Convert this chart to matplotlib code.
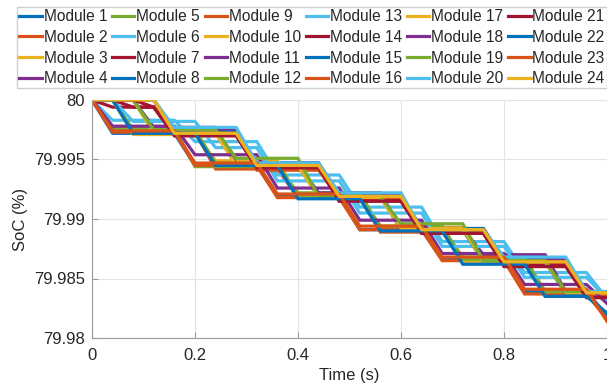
"""SoC of the 24 battery modules over the first second of the balancing run.

Run it directly::

    python plot.py

The figure is written to ``out.png``.
"""

from __future__ import annotations

import matplotlib

matplotlib.use("Agg")
import matplotlib.pyplot as plt
from matplotlib.ticker import FuncFormatter

# Sample times (s) shared by every module.
time_s = [0.00, 0.04, 0.08, 0.12, 0.16, 0.20, 0.24, 0.28, 0.32, 0.36, 0.40, 0.44, 0.48,
          0.52, 0.56, 0.60, 0.64, 0.68, 0.72, 0.76, 0.80, 0.84, 0.88, 0.92, 0.96, 1.00]

# SoC (%) per module, one value per sample time.
soc_01 = [80.0, 79.9972, 79.9972, 79.9972, 79.9972, 79.9945, 79.9945, 79.9945, 79.9945,
          79.9919, 79.9919, 79.9919, 79.9919, 79.9891, 79.9891, 79.9891, 79.9891,
          79.9866, 79.9866, 79.9866, 79.9866, 79.9839, 79.9839, 79.9839, 79.9839, 79.9819]
soc_02 = [80.0, 80.0, 79.9973, 79.9973, 79.9973, 79.9973, 79.9942, 79.9942, 79.9942,
          79.9942, 79.9918, 79.9918, 79.9918, 79.9918, 79.9889, 79.9889, 79.9889,
          79.9889, 79.9866, 79.9866, 79.9866, 79.9866, 79.9835, 79.9835, 79.9835, 79.9835]
soc_03 = [80.0, 80.0, 80.0, 79.9974, 79.9974, 79.9974, 79.9974, 79.9946, 79.9946,
          79.9946, 79.9946, 79.9919, 79.9919, 79.9919, 79.9919, 79.9893, 79.9893,
          79.9893, 79.9893, 79.9865, 79.9865, 79.9865, 79.9865, 79.9838, 79.9838, 79.9838]
soc_04 = [80.0, 80.0, 80.0, 80.0, 79.9975, 79.9975, 79.9975, 79.9975, 79.9947,
          79.9947, 79.9947, 79.9947, 79.9920, 79.9920, 79.9920, 79.9920, 79.9892,
          79.9892, 79.9892, 79.9892, 79.9866, 79.9866, 79.9866, 79.9866, 79.9839, 79.9839]
soc_05 = [80.0, 79.9976, 79.9976, 79.9976, 79.9976, 79.9944, 79.9944, 79.9944, 79.9944,
          79.9944, 79.9922, 79.9922, 79.9922, 79.9922, 79.9892, 79.9892, 79.9892,
          79.9892, 79.9868, 79.9868, 79.9868, 79.9868, 79.9838, 79.9838, 79.9838, 79.9838]
soc_06 = [80.0, 79.9983, 79.9983, 79.9983, 79.9983, 79.9965, 79.9965, 79.9965, 79.9965,
          79.9937, 79.9937, 79.9937, 79.9937, 79.9910, 79.9910, 79.9910, 79.9910,
          79.9881, 79.9881, 79.9881, 79.9881, 79.9855, 79.9855, 79.9855, 79.9855, 79.9833]
soc_07 = [80.0, 79.9994, 79.9994, 79.9994, 79.9970, 79.9970, 79.9970, 79.9970, 79.9943,
          79.9943, 79.9943, 79.9943, 79.9915, 79.9915, 79.9915, 79.9915, 79.9888,
          79.9888, 79.9888, 79.9888, 79.9862, 79.9862, 79.9862, 79.9862, 79.9834, 79.9834]
soc_08 = [80.0, 80.0, 80.0, 80.0, 79.9973, 79.9973, 79.9973, 79.9973, 79.9947,
          79.9947, 79.9947, 79.9947, 79.9919, 79.9919, 79.9919, 79.9919, 79.9892,
          79.9892, 79.9892, 79.9892, 79.9864, 79.9864, 79.9864, 79.9864, 79.9837, 79.9837]
soc_09 = [80.0, 79.9973, 79.9973, 79.9973, 79.9973, 79.9945, 79.9945, 79.9945, 79.9945,
          79.9918, 79.9918, 79.9918, 79.9918, 79.9891, 79.9891, 79.9891, 79.9891,
          79.9865, 79.9865, 79.9865, 79.9865, 79.9837, 79.9837, 79.9837, 79.9837, 79.9816]
soc_10 = [80.0, 80.0, 79.9971, 79.9971, 79.9971, 79.9971, 79.9949, 79.9949, 79.9949,
          79.9949, 79.9918, 79.9918, 79.9918, 79.9918, 79.9894, 79.9894, 79.9894,
          79.9894, 79.9864, 79.9864, 79.9864, 79.9864, 79.9839, 79.9839, 79.9839, 79.9839]
soc_11 = [80.0, 80.0, 80.0, 79.9977, 79.9977, 79.9977, 79.9977, 79.9946, 79.9946,
          79.9946, 79.9946, 79.9922, 79.9922, 79.9922, 79.9922, 79.9892, 79.9892,
          79.9892, 79.9892, 79.9870, 79.9870, 79.9870, 79.9870, 79.9839, 79.9839, 79.9839]
soc_12 = [80.0, 80.0, 79.9975, 79.9975, 79.9975, 79.9975, 79.9947, 79.9947, 79.9947,
          79.9947, 79.9920, 79.9920, 79.9920, 79.9920, 79.9894, 79.9894, 79.9894,
          79.9894, 79.9866, 79.9866, 79.9866, 79.9866, 79.9839, 79.9839, 79.9839, 79.9839]
soc_13 = [80.0, 80.0, 79.9982, 79.9982, 79.9982, 79.9982, 79.9960, 79.9960, 79.9960,
          79.9932, 79.9932, 79.9932, 79.9932, 79.9905, 79.9905, 79.9905, 79.9905,
          79.9877, 79.9877, 79.9877, 79.9877, 79.9851, 79.9851, 79.9851, 79.9851, 79.9833]
soc_14 = [80.0, 80.0, 79.9994, 79.9994, 79.9971, 79.9971, 79.9971, 79.9971, 79.9944,
          79.9944, 79.9944, 79.9944, 79.9916, 79.9916, 79.9916, 79.9916, 79.9889,
          79.9889, 79.9889, 79.9889, 79.9863, 79.9863, 79.9863, 79.9863, 79.9839, 79.9839]
soc_15 = [80.0, 80.0, 80.0, 79.9973, 79.9973, 79.9973, 79.9973, 79.9945, 79.9945,
          79.9945, 79.9945, 79.9919, 79.9919, 79.9919, 79.9919, 79.9891, 79.9891,
          79.9891, 79.9891, 79.9864, 79.9864, 79.9864, 79.9864, 79.9837, 79.9837, 79.9837]
soc_16 = [80.0, 80.0, 80.0, 80.0, 79.9972, 79.9972, 79.9972, 79.9972, 79.9941,
          79.9941, 79.9941, 79.9941, 79.9918, 79.9918, 79.9918, 79.9918, 79.9888,
          79.9888, 79.9888, 79.9888, 79.9864, 79.9864, 79.9864, 79.9864, 79.9836, 79.9836]
soc_17 = [80.0, 80.0, 80.0, 79.9972, 79.9972, 79.9972, 79.9972, 79.9945, 79.9945,
          79.9945, 79.9945, 79.9918, 79.9918, 79.9918, 79.9918, 79.9892, 79.9892,
          79.9892, 79.9892, 79.9864, 79.9864, 79.9864, 79.9864, 79.9838, 79.9838, 79.9838]
soc_18 = [80.0, 79.9978, 79.9978, 79.9978, 79.9978, 79.9954, 79.9954, 79.9954, 79.9954,
          79.9926, 79.9926, 79.9926, 79.9926, 79.9899, 79.9899, 79.9899, 79.9899,
          79.9871, 79.9871, 79.9871, 79.9871, 79.9845, 79.9845, 79.9845, 79.9845, 79.9829]
soc_19 = [80.0, 80.0, 80.0, 79.9975, 79.9975, 79.9975, 79.9975, 79.9951, 79.9951,
          79.9951, 79.9951, 79.9919, 79.9919, 79.9919, 79.9919, 79.9896, 79.9896,
          79.9896, 79.9896, 79.9865, 79.9865, 79.9865, 79.9865, 79.9839, 79.9839, 79.9839]
soc_20 = [80.0, 80.0, 80.0, 80.0, 79.9977, 79.9977, 79.9977, 79.9977, 79.9947,
          79.9947, 79.9947, 79.9947, 79.9922, 79.9922, 79.9922, 79.9922, 79.9891,
          79.9891, 79.9891, 79.9891, 79.9868, 79.9868, 79.9868, 79.9868, 79.9839, 79.9839]
soc_21 = [80.0, 80.0, 80.0, 79.9994, 79.9970, 79.9970, 79.9970, 79.9970, 79.9943,
          79.9943, 79.9943, 79.9943, 79.9915, 79.9915, 79.9915, 79.9915, 79.9888,
          79.9888, 79.9888, 79.9888, 79.9860, 79.9860, 79.9860, 79.9860, 79.9834, 79.9834]
soc_22 = [80.0, 80.0, 79.9972, 79.9972, 79.9972, 79.9972, 79.9945, 79.9945, 79.9945,
          79.9945, 79.9917, 79.9917, 79.9917, 79.9917, 79.9890, 79.9890, 79.9890,
          79.9890, 79.9862, 79.9862, 79.9862, 79.9862, 79.9835, 79.9835, 79.9835, 79.9821]
soc_23 = [80.0, 79.9974, 79.9974, 79.9974, 79.9974, 79.9947, 79.9947, 79.9947, 79.9947,
          79.9921, 79.9921, 79.9921, 79.9921, 79.9894, 79.9894, 79.9894, 79.9894,
          79.9868, 79.9868, 79.9868, 79.9868, 79.9841, 79.9841, 79.9841, 79.9841, 79.9814]
soc_24 = [80.0, 80.0, 80.0, 80.0, 79.9972, 79.9972, 79.9972, 79.9972, 79.9945,
          79.9945, 79.9945, 79.9945, 79.9919, 79.9919, 79.9919, 79.9919, 79.9891,
          79.9891, 79.9891, 79.9891, 79.9864, 79.9864, 79.9864, 79.9864, 79.9838, 79.9838]

module_soc = [soc_01, soc_02, soc_03, soc_04, soc_05, soc_06, soc_07, soc_08,
              soc_09, soc_10, soc_11, soc_12, soc_13, soc_14, soc_15, soc_16,
              soc_17, soc_18, soc_19, soc_20, soc_21, soc_22, soc_23, soc_24]
module_names = [f"Module {i}" for i in range(1, 25)]

x_ticks = [0, 0.2, 0.4, 0.6, 0.8, 1]
y_ticks = [79.98, 79.985, 79.99, 79.995, 80]

# MATLAB's default line colour order.
COLORS = ["#0072BD", "#D95319", "#EDB120", "#7E2F8E", "#77AC30", "#4DBEEE", "#A2142F"]
TEXT_COLOR = "#262626"
AXIS_COLOR = "#9a9a9a"


def build_figure():
    plt.rcParams["font.family"] = ["Liberation Sans", "DejaVu Sans"]
    fig = plt.figure(figsize=(6.07, 3.86), dpi=100)
    ax = fig.add_axes([92 / 607, 48 / 386, 515 / 607, 238 / 386])

    lines = []
    for i, soc in enumerate(module_soc):
        (line,) = ax.plot(time_s, soc, color=COLORS[i % len(COLORS)], lw=2.3,
                          solid_joinstyle="miter")
        lines.append(line)

    ax.set_xlim(0, 1)
    ax.set_ylim(79.98, 80)
    ax.set_xticks(x_ticks)
    ax.set_yticks(y_ticks)
    ax.xaxis.set_major_formatter(FuncFormatter(lambda v, _: f"{v:g}"))
    ax.yaxis.set_major_formatter(FuncFormatter(lambda v, _: f"{v:g}"))
    ax.tick_params(direction="in", length=4, width=0.8, color=AXIS_COLOR,
                   labelcolor=TEXT_COLOR, labelsize=12)
    ax.tick_params(axis="x", pad=7)
    ax.tick_params(axis="y", pad=5)
    ax.grid(True, color="#e3e3e3", lw=0.8)
    ax.set_axisbelow(True)
    for side in ("top", "right"):
        ax.spines[side].set_visible(False)
    for side in ("left", "bottom"):
        ax.spines[side].set_color(AXIS_COLOR)
        ax.spines[side].set_linewidth(0.8)

    ax.set_xlabel("Time (s)", fontsize=12, color=TEXT_COLOR, labelpad=4)
    ax.set_ylabel("SoC (%)", fontsize=12, color=TEXT_COLOR, labelpad=4)

    legend = fig.legend(lines, module_names, ncol=6, loc="upper left",
                        bbox_to_anchor=(17 / 607, 0, 590 / 607, 379 / 386),
                        mode="expand", borderaxespad=0, fontsize=11.2,
                        handlelength=1.45, handletextpad=0.12, columnspacing=0.3,
                        labelspacing=0.36, borderpad=0.15, fancybox=False,
                        edgecolor="#d0d0d0", framealpha=1)
    for text in legend.get_texts():
        text.set_color(TEXT_COLOR)
    return fig


def main() -> None:
    fig = build_figure()
    fig.savefig("out.png", dpi=100)


if __name__ == "__main__":
    main()
